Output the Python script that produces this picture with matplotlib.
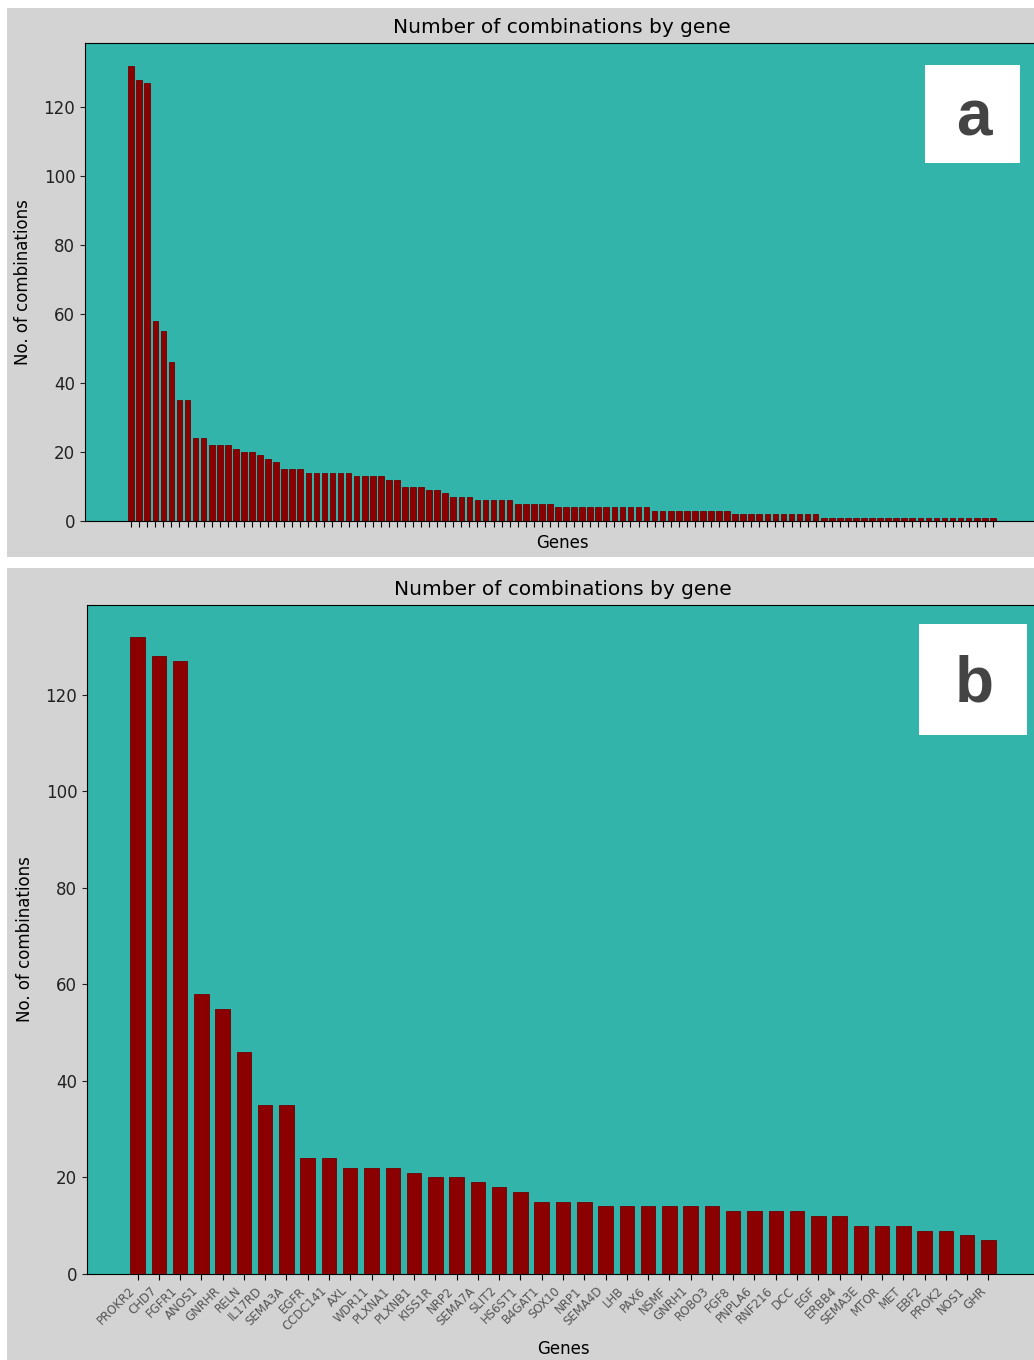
import matplotlib
matplotlib.use("Agg")
import matplotlib.pyplot as plt
from matplotlib.patches import Rectangle

# ---- data ----
genes_b = ["PROKR2", "CHD7", "FGFR1", "ANOS1", "GNRHR", "RELN", "IL17RD", "SEMA3A",
           "EGFR", "CCDC141", "AXL", "WDR11", "PLXNA1", "PLXNB1", "KISS1R", "NRP2",
           "SEMA7A", "SLIT2", "HS6ST1", "B4GAT1", "SOX10", "NRP1", "SEMA4D", "LHB",
           "PAX6", "NSMF", "GNRH1", "ROBO3", "FGF8", "PNPLA6", "RNF216", "DCC", "EGF",
           "ERBB4", "SEMA3E", "MTOR", "MET", "EBF2", "PROK2", "NOS1", "GHR"]
counts_b = [132, 128, 127, 58, 55, 46, 35, 35, 24, 24, 22, 22, 22, 21, 20, 20,
            19, 18, 17, 15, 15, 15, 14, 14, 14, 14, 14, 14, 13, 13, 13, 13, 12,
            12, 10, 10, 10, 9, 9, 8, 7]
counts_a_tail = ([7, 7] + [6, 6, 6, 6, 6] + [5, 5, 5, 5, 5]
                 + [4, 4, 4, 4, 4, 4, 4, 4, 4, 4, 4, 4]
                 + [3, 3, 3, 3, 3, 3, 3, 3, 3, 3]
                 + [2, 2, 2, 2, 2, 2, 2, 2, 2, 2, 2]
                 + [1] * 22)
counts_a = counts_b + counts_a_tail
title = "Number of combinations by gene"

W, H = 1034, 1360
fig = plt.figure(figsize=(W / 100, H / 100), dpi=100, facecolor="white")

def fx(x):
    return x / W

def fy(y):
    return 1 - y / H

bg = "#d3d3d3"
teal = "#32b4aa"
bar_c = "#8b0000"

# panel backgrounds
fig.patches.append(Rectangle((fx(7), fy(557)), fx(1027), 549 / H, transform=fig.transFigure,
                             facecolor=bg, edgecolor="none", zorder=-5))
fig.patches.append(Rectangle((fx(7), fy(1360)), fx(1027), 792 / H, transform=fig.transFigure,
                             facecolor=bg, edgecolor="none", zorder=-5))

# ---- panel a ----
axa = fig.add_axes([fx(85), fy(521), fx(954), 478 / H])
axa.set_facecolor(teal)
xa = list(range(len(counts_a)))
axa.bar(xa, counts_a, width=0.7, color=bar_c, edgecolor="#700000", linewidth=0.6)
axa.set_xticks(xa)
axa.set_xticklabels([])
axa.tick_params(axis="x", length=4, width=0.8)
axa.set_yticks(range(0, 121, 20))
axa.tick_params(axis="y", labelsize=12, colors="#222222")
axa.set_title(title, fontsize=14.5, pad=7)
axa.set_xlabel("Genes", fontsize=12, labelpad=2)
axa.set_ylabel("No. of combinations", fontsize=12, labelpad=8)

# ---- panel b ----
axb = fig.add_axes([fx(87), fy(1274), fx(952), 669 / H])
axb.set_facecolor(teal)
xb = list(range(len(counts_b)))
axb.bar(xb, counts_b, width=0.68, color=bar_c, edgecolor="#700000", linewidth=0.6)
axb.set_xticks(xb)
axb.set_xticklabels(genes_b, rotation=45, ha="right", fontsize=8.5, color="#555555")
axb.tick_params(axis="x", length=4, width=0.8)
axb.set_yticks(range(0, 121, 20))
axb.tick_params(axis="y", labelsize=12, colors="#222222")
axb.set_title(title, fontsize=14.5, pad=7)
axb.set_xlabel("Genes", fontsize=12, labelpad=5)
axb.set_ylabel("No. of combinations", fontsize=12, labelpad=8)

# ---- panel letters ----
for (x0, y0, x1, y1, letter) in [(925, 65, 1020, 163, "a"), (919, 624, 1027, 735, "b")]:
    fig.patches.append(Rectangle((fx(x0), fy(y1)), fx(x1 - x0), (y1 - y0) / H,
                                 transform=fig.transFigure, facecolor="white",
                                 edgecolor="none", zorder=5))
    fig.text(fx((x0 + x1) / 2 + 1), fy((y0 + y1) / 2 + 5), letter, ha="center", va="center",
             fontsize=46, fontweight="bold", color="#444444", family="Liberation Sans",
             zorder=6)

fig.savefig("out.png", dpi=100, facecolor="white")
